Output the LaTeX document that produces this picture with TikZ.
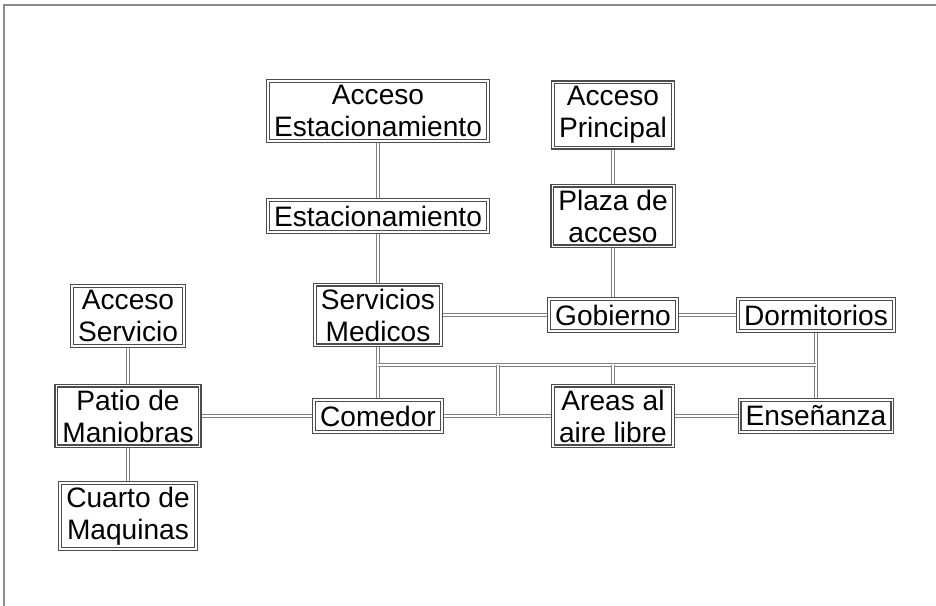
\documentclass[tikz,border=0pt]{standalone}
\usepackage{fontspec}
\setmainfont{Liberation Sans}
\usetikzlibrary{positioning,calc,backgrounds}

\begin{document}
\begin{tikzpicture}[
    box/.style={draw=black!70, double=white, double distance=0.9pt, line width=0.65pt, fill=white, align=center, inner xsep=0.12cm, inner ysep=0.08cm, minimum height=0.64cm, font=\fontsize{16}{18.2}\selectfont},
    link/.style={draw=black!50, double=white, double distance=1.2pt, line width=0.6pt},
    frame/.style={draw=black!45, line width=1.2pt},
]
    \useasboundingbox (0,0) rectangle (18.72,12.12);
    % Frame
    \draw[frame] (0.08,0) |- (18.72,12.02);

    % Access column
    \node[box] (accest) at (7.56, 9.90) {Acceso\\Estacionamiento};
    \node[box] (est) at (7.56, 7.80) {Estacionamiento};
    \node[box] (serv) at (7.56, 5.82) {Servicios\\Medicos};
    \node[box] (com) at (7.56, 3.80) {Comedor};

    % Main entrance column
    \node[box] (accprin) at (12.26, 9.82) {Acceso\\Principal};
    \node[box] (plaza) at (12.26, 7.80) {Plaza de\\acceso};
    \node[box] (gob) at (12.26, 5.82) {Gobierno};
    \node[box] (areas) at (12.26, 3.80) {Areas al\\aire libre};

    % Right column
    \node[box] (dorm) at (16.32, 5.82) {Dormitorios};
    \node[box] (ens) at (16.32, 3.80) {Enseñanza};

    % Service column
    \node[box] (accserv) at (2.56, 5.80) {Acceso\\Servicio};
    \node[box] (patio) at (2.56, 3.80) {Patio de\\Maniobras};
    \node[box] (cuarto) at (2.56, 1.80) {Cuarto de\\Maquinas};

    % Bus points
    \coordinate (busW) at (7.56, 4.82);
    \coordinate (busM) at (9.96, 4.82);
    \coordinate (busE) at (16.32, 4.82);

    % Links
    \begin{scope}[on background layer]
    \draw[link] (accest) -- (est);
    \draw[link] (est) -- (serv);
    \draw[link] (serv) -- (com);
    \draw[link] (accprin) -- (plaza);
    \draw[link] (plaza) -- (gob);
    \draw[link] (serv) -- (gob);
    \draw[link] (gob) -- (dorm);
    \draw[link] (dorm) -- (ens);
    \draw[link] (accserv) -- (patio);
    \draw[link] (patio) -- (cuarto);
    \draw[link] (patio) -- (com);
    \draw[link] (com) -- (areas);
    \draw[link] (areas) -- (ens);
    \draw[link] (busW) -- (busE);
    \draw[link] (busM) -- (busM |- com);
    \draw[link] (areas) -- (areas |- busW);
    \end{scope}
\end{tikzpicture}
\end{document}
